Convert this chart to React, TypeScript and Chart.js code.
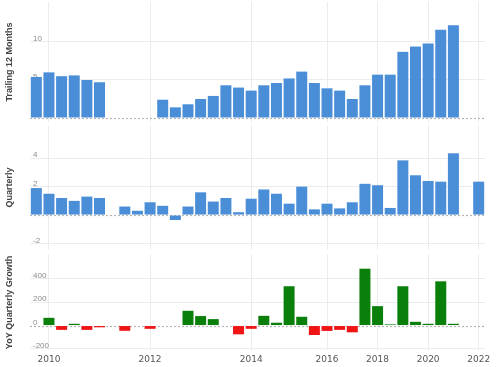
import React, { useEffect, useRef } from 'react';
import { Chart, registerables } from 'chart.js';

Chart.register(...registerables);

// one category per bar slot; year labels where the reference shows them
const categories = ['', '2010', '', '', '', '', '', '', '', '2012', '', '', '', '', '', '', '', '2014', '', '', '', '', '', '2016', '', '', '', '2018', '', '', '', '2020', '', '', '', '2022'];

const trailing12Months = [5.4, 6.0, 5.5, 5.6, 5.0, 4.7, null, null, null, null, 2.4, 1.4, 1.8, 2.5, 2.9, 4.3, 4.0, 3.6, 4.3, 4.6, 5.2, 6.1, 4.6, 3.9, 3.6, 2.5, 4.3, 5.7, 5.7, 8.7, 9.4, 9.8, 11.6, 12.2, null, null];

const quarterly = [1.9, 1.5, 1.2, 1.0, 1.3, 1.2, null, 0.6, 0.3, 0.9, 0.65, -0.35, 0.6, 1.6, 0.95, 1.2, 0.2, 1.15, 1.8, 1.5, 0.8, 2.0, 0.4, 0.8, 0.47, 0.9, 2.2, 2.1, 0.5, 3.85, 2.8, 2.4, 2.35, 4.35, null, 2.35];

const yoyGrowth = [null, 66, -37, 15, -37, -15, null, -45, null, -28, null, null, 126, 81, 55, null, -75, -28, 83, 24, 336, 75, -81, -46, -37, -58, 486, 166, 10, 336, 32, 15, 378, 15, null, -4];

const topTicks = [0, 5, 10];
const midTicks = [-2, 0, 2, 4];
const botTicks = [-200, 0, 200, 400];

const BLUE = '#4a8ed8';
const GREEN = '#0a800a';
const RED = '#f01414';
const GRID = '#ececec';

const zeroLine = {
  id: 'zeroLine',
  beforeDatasetsDraw(chart: any) {
    const y = chart.scales.y.getPixelForValue(0);
    const { left, right } = chart.chartArea;
    const ctx = chart.ctx;
    ctx.save();
    ctx.strokeStyle = '#b5b5b5';
    ctx.lineWidth = 1.2;
    ctx.setLineDash([2, 2]);
    ctx.beginPath();
    ctx.moveTo(left, Math.round(y) + 0.5);
    ctx.lineTo(right, Math.round(y) + 0.5);
    ctx.stroke();
    ctx.restore();
  },
};

function makeConfig(opts: {
  data: (number | null)[];
  colors: any;
  title: string;
  ticks: number[];
  min: number;
  max: number;
  padTop: number;
  padBottom: number;
  showX: boolean;
}) {
  return {
    type: 'bar' as const,
    data: {
      labels: categories,
      datasets: [
        {
          data: opts.data,
          backgroundColor: opts.colors,
          borderWidth: 0,
          categoryPercentage: 1,
          barPercentage: 0.87,
        },
      ],
    },
    plugins: [zeroLine],
    options: {
      animation: false,
      responsive: false,
      devicePixelRatio: 1,
      layout: { padding: { left: 0, right: 15, top: opts.padTop, bottom: opts.padBottom } },
      plugins: { legend: { display: false }, tooltip: { enabled: false } },
      scales: {
        x: {
          type: 'category',
          offset: true,
          afterFit: (s: any) => {
            s.height = opts.showX ? 17 : 0;
            s.paddingLeft = 0;
            s.paddingRight = 0;
          },
          grid: {
            offset: false,
            drawTicks: false,
            color: (ctx: any) => (categories[ctx.index] ? GRID : 'rgba(0,0,0,0)'),
          },
          border: { display: false },
          ticks: {
            display: opts.showX,
            autoSkip: false,
            maxRotation: 0,
            padding: 4,
            color: '#555',
            font: { family: 'DejaVu Sans', size: 9 },
            callback: (_v: any, i: number) => categories[i],
          },
        },
        y: {
          position: 'left',
          min: opts.min,
          max: opts.max,
          afterBuildTicks: (s: any) => {
            s.ticks = opts.ticks.map((v) => ({ value: v }));
          },
          afterFit: (s: any) => {
            s.width = 30;
            s.paddingTop = 0;
            s.paddingBottom = 0;
          },
          grid: {
            drawTicks: false,
            color: (ctx: any) => (ctx.tick && ctx.tick.value === 0 ? 'rgba(0,0,0,0)' : GRID),
          },
          border: { display: false },
          ticks: {
            mirror: true,
            padding: 3,
            labelOffset: -3,
            color: '#8c8c8c',
            font: { family: 'Liberation Sans', size: 8 },
          },
          title: {
            display: true,
            text: opts.title,
            color: '#444',
            font: { family: 'Liberation Sans', size: 9, weight: 'bold' },
            padding: { top: 4, bottom: 4 },
          },
        },
      },
    },
  };
}

function Panel(props: { top: number; height: number; config: any }) {
  const ref = useRef<HTMLCanvasElement | null>(null);
  useEffect(() => {
    if (!ref.current) return;
    const chart = new Chart(ref.current, props.config);
    return () => chart.destroy();
  }, []);
  return (
    <canvas
      ref={ref}
      width={500}
      height={props.height}
      style={{ position: 'absolute', left: 0, top: props.top, width: 500, height: props.height }}
    />
  );
}

export default function App() {
  const topCfg = makeConfig({
    data: trailing12Months,
    colors: BLUE,
    title: 'Trailing 12 Months',
    ticks: topTicks,
    min: -0.53,
    max: 15.26,
    padTop: 2,
    padBottom: 2,
    showX: false,
  });
  const midCfg = makeConfig({
    data: quarterly,
    colors: BLUE,
    title: 'Quarterly',
    ticks: midTicks,
    min: -2.46,
    max: 6.34,
    padTop: 1,
    padBottom: 2,
    showX: false,
  });
  const botCfg = makeConfig({
    data: yoyGrowth,
    colors: (ctx: any) => (ctx.raw != null && ctx.raw < 0 ? RED : GREEN),
    title: 'YoY Quarterly Growth',
    ticks: botTicks,
    min: -209,
    max: 603,
    padTop: 3,
    padBottom: 0,
    showX: true,
  });
  return (
    <div style={{ position: 'absolute', left: 0, top: 0, width: 500, height: 367, background: '#fff' }}>
      <Panel top={0} height={124} config={topCfg} />
      <Panel top={124} height={128} config={midCfg} />
      <Panel top={252} height={115} config={botCfg} />
    </div>
  );
}
